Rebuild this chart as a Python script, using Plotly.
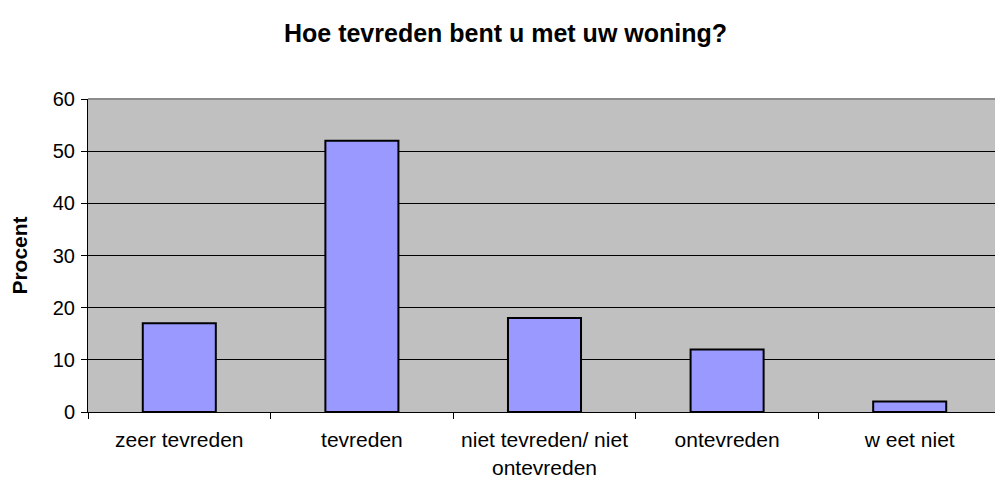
import plotly.graph_objects as go

categories = ["zeer tevreden", "tevreden", "niet tevreden/ niet<br>ontevreden", "ontevreden", "w eet niet"]
values = [17, 52, 18, 12, 2]
y_ticks = [0, 10, 20, 30, 40, 50, 60]

FONT = "Liberation Sans, Arial, sans-serif"

fig = go.Figure(go.Bar(
    x=categories, y=values,
    marker=dict(color="#9999FF", line=dict(color="#000000", width=2)),
    width=0.4,
))

# page body has an 8px default margin, so the figure is sized to fit the 1003x481 window
fig.update_layout(
    width=995, height=473,
    margin=dict(l=80, r=2, t=91, b=69),
    paper_bgcolor="white", plot_bgcolor="#C0C0C0",
    showlegend=False,
    font=dict(family=FONT, size=20, color="black"),
    title=dict(text="<b>Hoe tevreden bent u met uw woning?</b>", x=0.5, xanchor="center",
               y=0.947, yanchor="middle", font=dict(size=25, family=FONT)),
    shapes=[dict(type="line", xref="x domain", yref="y domain", x0=0, x1=1, y0=1, y1=1,
                 line=dict(color="#8C8C8C", width=2), layer="above")],
)
fig.update_xaxes(
    showline=True, linecolor="black", linewidth=1,
    ticks="outside", tickson="boundaries", ticklen=6, tickcolor="black",
    showgrid=False, tickfont=dict(size=21), ticklabelstandoff=9, automargin=False,
)
fig.update_yaxes(
    range=[0, 60], tickvals=y_ticks, showline=True, linecolor="black", linewidth=1,
    ticks="outside", ticklen=6, tickcolor="black",
    showgrid=True, gridcolor="black", gridwidth=1, zeroline=False,
    title=dict(text="<b>Procent</b>", font=dict(size=21), standoff=20),
    tickfont=dict(size=20), ticklabelstandoff=2, automargin=False,
)
fig.write_html("out.html")
